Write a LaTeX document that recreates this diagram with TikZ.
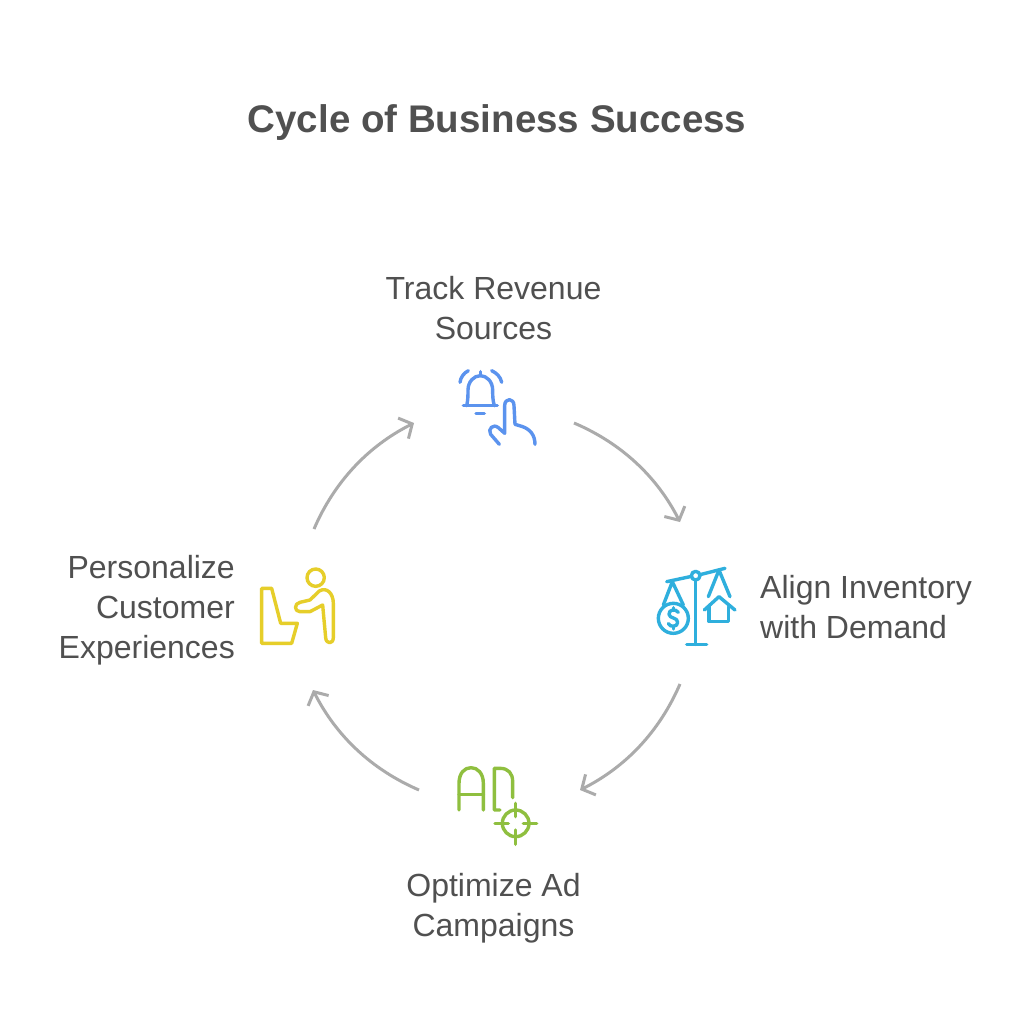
\documentclass[tikz,border=0pt]{standalone}
\usepackage{fontspec}
\setmainfont{Liberation Sans}
\usetikzlibrary{arrows.meta}
\definecolor{txt}{HTML}{505050}
\definecolor{arr}{HTML}{ABABAB}
\definecolor{cblue}{HTML}{5B93EE}
\definecolor{ccyan}{HTML}{2FAFDD}
\definecolor{cgreen}{HTML}{8FBF3F}
\definecolor{cyel}{HTML}{E6CE2A}
\tikzset{
  lbl/.style={text=txt,font=\fontsize{32}{40}\selectfont,inner sep=0pt,align=center},
  lblr/.style={lbl,align=right},
  lbll/.style={lbl,align=left},
  ttl/.style={text=txt,font=\fontsize{38.5}{44}\selectfont\bfseries,inner sep=0pt},
  conn/.style={draw=arr,line width=3pt,-{Straight Barb[length=10pt,width=23pt,line width=3pt]}},
  ico/.style={line width=3.4pt,line cap=round,line join=round,fill=none},
}
\begin{document}
\begin{tikzpicture}[x=1pt,y=-1pt]
\useasboundingbox (0,0) rectangle (1024,1024);
\fill[white] (0,0) rectangle (1024,1024);
\node[ttl] (title) at (497,122.5) {Cycle of Business Success};
\node[lbl] (top) at (493.5,308.5) {Track Revenue\\Sources};
\node[lbll,anchor=west] (right) at (760,607) {Align Inventory\\with Demand};
\node[lbl] (bottom) at (493.5,908) {Optimize Ad\\Campaigns};
\node[lblr,anchor=east] (left) at (235,610) {Personalize\\Customer\\Experiences};
\coordinate (a1) at (574,423); \coordinate (a2) at (680,522);
\coordinate (b1) at (680,684); \coordinate (b2) at (580,790);
\coordinate (c1) at (419,790); \coordinate (c2) at (313,690);
\coordinate (d1) at (314,529); \coordinate (d2) at (414,423);
\draw[conn] (a1) to[bend left=20,looseness=0.9] (a2);
\draw[conn] (b1) to[bend left=20,looseness=0.9] (b2);
\draw[conn] (c1) to[bend left=20,looseness=0.9] (c2);
\draw[conn] (d1) to[bend left=20,looseness=0.9] (d2);
% bell + hand
\begin{scope}[shift={(440,355)},scale=0.3333,ico,draw=cblue]
\draw (70,152) -- (172,152);
\draw (80,152) .. controls (84,135) and (84,120) .. (84,105) .. controls (84,80) and (102,62) .. (121,62) .. controls (140,62) and (158,80) .. (158,105) .. controls (158,120) and (158,135) .. (163,152);
\draw (121,50) -- (121,62);
\draw (60,82) .. controls (62,66) and (72,54) .. (85,47);
\draw (155,47) .. controls (170,54) and (182,66) .. (185,82);
\draw (108,176) -- (133,176);
\draw (178,268) -- (152,238) .. controls (142,222) and (160,205) .. (175,218) -- (194,235) -- (194,152) .. controls (194,128) and (222,128) .. (222,152) -- (225,208) -- (245,214) .. controls (270,222) and (285,240) .. (285,268);
\end{scope}
% scale
\begin{scope}[shift={(645,555)},scale=0.3333,ico,draw=ccyan]
\draw (65,80) -- (140,64);
\draw (165,59) -- (240,40);
\draw (152,62) circle[radius=13];
\draw (152,75) -- (152,268);
\draw (125,268) -- (185,268);
\draw (55,150) -- (82,80) -- (115,150);
\draw (85,190) circle[radius=45];
\draw (100,172) .. controls (92,160) and (70,164) .. (72,178) .. controls (74,192) and (98,186) .. (98,202) .. controls (98,216) and (76,218) .. (70,206);
\draw (85,158) -- (85,166);
\draw (85,214) -- (85,222);
\draw (190,125) -- (222,45) -- (255,125);
\draw (178,165) -- (222,125) -- (270,165);
\draw (192,155) -- (192,200) -- (250,200) -- (250,155);
\end{scope}
% AD target
\begin{scope}[shift={(445,755)},scale=0.3333,ico,draw=cgreen]
\draw (42,165) -- (42,85) .. controls (42,55) and (58,38) .. (78,38) .. controls (98,38) and (115,55) .. (115,85) -- (115,165);
\draw (42,118) -- (115,118);
\draw (165,165) -- (148,165) -- (148,40) -- (165,40) .. controls (190,40) and (203,55) .. (203,80) -- (203,128);
\draw (212,205) circle[radius=40];
\draw (212,145) -- (212,185);
\draw (212,225) -- (212,268);
\draw (150,205) -- (190,205);
\draw (235,205) -- (275,205);
\end{scope}
% person + chair
\begin{scope}[shift={(250,555)},scale=0.3333,ico,draw=cyel]
\draw (197,68) circle[radius=26];
\draw (35,100) -- (65,100) -- (92,205) -- (142,205) -- (125,265) -- (35,265) -- cycle;
\draw (150,142) -- (180,135) -- (208,108) .. controls (230,95) and (250,115) .. (250,145) -- (250,248) .. controls (250,268) and (228,268) .. (227,248) -- (218,150) -- (180,170) -- (150,170) .. controls (132,170) and (132,145) .. (150,142) -- cycle;
\end{scope}
\end{tikzpicture}
\end{document}
